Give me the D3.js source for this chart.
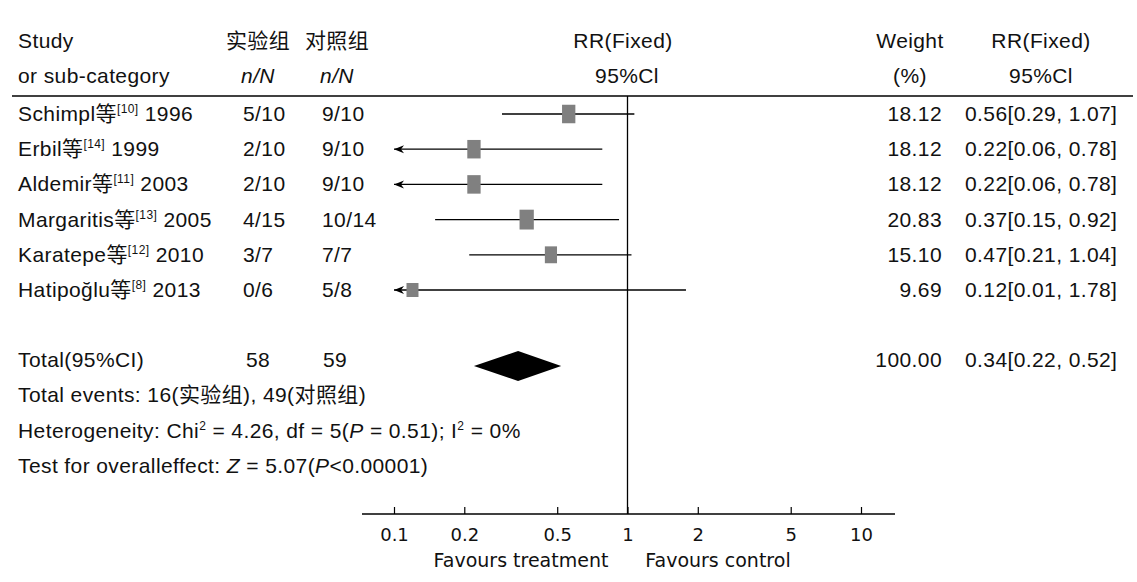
<!DOCTYPE html>
<html><head><meta charset="utf-8">
<script src="https://cdn.jsdelivr.net/npm/d3@7"></script>
<style>
body{margin:0;background:#fff}
svg text{font-family:"Liberation Sans","Noto Sans CJK SC",sans-serif;fill:#111}
</style></head><body>
<svg id="c" width="1137" height="582"></svg>
<script>
const studies = ["Schimpl", "Erbil", "Aldemir", "Margaritis", "Karatepe", "Hatipoğlu"];
const refs = ["10", "14", "11", "13", "12", "8"];
const years = ["1996", "1999", "2003", "2005", "2010", "2013"];
const treatN = ["5/10", "2/10", "2/10", "4/15", "3/7", "0/6"];
const ctrlN = ["9/10", "9/10", "9/10", "10/14", "7/7", "5/8"];
const weights = [18.12, 18.12, 18.12, 20.83, 15.10, 9.69];
const rr = [0.56, 0.22, 0.22, 0.37, 0.47, 0.12];
const lo = [0.29, 0.06, 0.06, 0.15, 0.21, 0.01];
const hi = [1.07, 0.78, 0.78, 0.92, 1.04, 1.78];
const total = {treat: "58", ctrl: "59", weight: 100.00, rr: 0.34, lo: 0.22, hi: 0.52};
const tickVals = [0.1, 0.2, 0.5, 1, 2, 5, 10];

const svg = d3.select("#c");
const x = d3.scaleLog().domain([0.1, 10]).range([394, 861]);
const rowY = d3.scalePoint().domain(d3.range(6)).range([114, 290]);
const fs = 21;
const ls = "0.4px";
const cjk = '"Noto Sans CJK SC",sans-serif';

function txt(xp, yp, s, anchor, opts={}) {
  const t = svg.append("text").attr("x", xp).attr("y", yp + 7)
    .attr("text-anchor", anchor || "start").style("font-size", (opts.size||fs) + "px")
    .style("letter-spacing", ls);
  if (opts.italic) t.style("font-style", "italic");
  if (opts.family) t.style("font-family", opts.family);
  if (s !== null) t.text(s);
  return t;
}
function sup(t, s) {
  t.append("tspan").attr("dy", -8).style("font-size", "12px").text(s);
}
function unsup(t, s) {
  t.append("tspan").attr("dy", 8).text(s);
}

// headers
txt(18, 41, "Study");
txt(18, 76, "or sub-category");
txt(258, 41, "实验组", "middle", {family: cjk});
txt(337, 41, "对照组", "middle", {family: cjk});
txt(258, 76, "n/N", "middle", {italic: true});
txt(337, 76, "n/N", "middle", {italic: true});
txt(623, 41, "RR(Fixed)", "middle");
txt(627, 76, "95%Cl", "middle");
txt(910, 41, "Weight", "middle");
txt(910, 76, "(%)", "middle");
txt(1041, 41, "RR(Fixed)", "middle");
txt(1041, 76, "95%Cl", "middle");

svg.append("line").attr("x1", 12).attr("x2", 1133).attr("y1", 96).attr("y2", 96)
  .attr("stroke", "#000").attr("stroke-width", 1.3);

// vertical line at 1
svg.append("line").attr("x1", x(1)).attr("x2", x(1)).attr("y1", 96).attr("y2", 514)
  .attr("stroke", "#000").attr("stroke-width", 1.3);

const fmt2 = d3.format(".2f");
studies.forEach((s, i) => {
  const y = rowY(i);
  const t = txt(18, y, null);
  t.append("tspan").text(s);
  t.append("tspan").style("font-family", cjk).text("等");
  sup(t, "[" + refs[i] + "]");
  unsup(t, " " + years[i]);
  txt(243, y, treatN[i]);
  txt(322, y, ctrlN[i]);
  txt(942, y, fmt2(weights[i]), "end");
  txt(965, y, fmt2(rr[i]) + "[" + fmt2(lo[i]) + ", " + fmt2(hi[i]) + "]");

  const clipped = lo[i] < 0.1;
  const x1 = clipped ? x(0.1) : x(lo[i]);
  svg.append("line").attr("x1", x1).attr("x2", x(hi[i])).attr("y1", y).attr("y2", y)
    .attr("stroke", "#000").attr("stroke-width", 1.3);
  if (clipped) {
    svg.append("path")
      .attr("d", `M${x1},${y} L${x1+10},${y-4} L${x1+7},${y} L${x1+10},${y+4} Z`)
      .attr("fill", "#000");
  }
  const h = Math.max(14, 18.5 * Math.sqrt(weights[i] / 18.12));
  const w = Math.max(12, h * 0.72);
  svg.append("rect").attr("x", x(rr[i]) - w/2).attr("y", y - h/2)
    .attr("width", w).attr("height", h).attr("fill", "#808080");
});

// total
const ty = 360;
txt(18, ty, "Total(95%CI)");
txt(246, ty, total.treat);
txt(323, ty, total.ctrl);
txt(942, ty, fmt2(total.weight), "end");
txt(965, ty, fmt2(total.rr) + "[" + fmt2(total.lo) + ", " + fmt2(total.hi) + "]");
const dy0 = 366;
svg.append("path")
  .attr("d", `M${x(total.lo)},${dy0} L${x(total.rr)},${dy0-15} L${x(total.hi)},${dy0} L${x(total.rr)},${dy0+15} Z`)
  .attr("fill", "#000");

// notes
let t = txt(18, 395, null);
t.append("tspan").text("Total events: 16(");
t.append("tspan").style("font-family", cjk).text("实验组");
t.append("tspan").text("), 49(");
t.append("tspan").style("font-family", cjk).text("对照组");
t.append("tspan").text(")");

t = txt(18, 431, null);
t.append("tspan").text("Heterogeneity: Chi");
sup(t, "2");
unsup(t, " = 4.26, df = 5(");
t.append("tspan").style("font-style", "italic").text("P");
t.append("tspan").text(" = 0.51); I");
sup(t, "2");
unsup(t, " = 0%");

t = txt(18, 466, null);
t.append("tspan").text("Test for overalleffect: ");
t.append("tspan").style("font-style", "italic").text("Z");
t.append("tspan").text(" = 5.07(");
t.append("tspan").style("font-style", "italic").text("P");
t.append("tspan").text("<0.00001)");

// axis
svg.append("line").attr("x1", 362).attr("x2", 895).attr("y1", 514).attr("y2", 514)
  .attr("stroke", "#000").attr("stroke-width", 1.3);
const ax = svg.append("g").attr("transform", "translate(0,514)")
  .call(d3.axisBottom(x).tickValues(tickVals).tickFormat(d3.format("~g"))
    .tickSizeInner(-7).tickSizeOuter(0).tickPadding(14));
ax.select(".domain").remove();
ax.selectAll(".tick line").attr("stroke", "#000").attr("stroke-width", 1.2);
ax.selectAll(".tick text").style("font-family", '"DejaVu Sans",sans-serif').style("font-size", "18px").attr("fill", "#111");

svg.append("text").attr("x", 521).attr("y", 567).attr("text-anchor", "middle")
  .style("font-family", '"DejaVu Sans",sans-serif').style("font-size", "19px").text("Favours treatment");
svg.append("text").attr("x", 718).attr("y", 567).attr("text-anchor", "middle")
  .style("font-family", '"DejaVu Sans",sans-serif').style("font-size", "19px").text("Favours control");
</script>
</body></html>
